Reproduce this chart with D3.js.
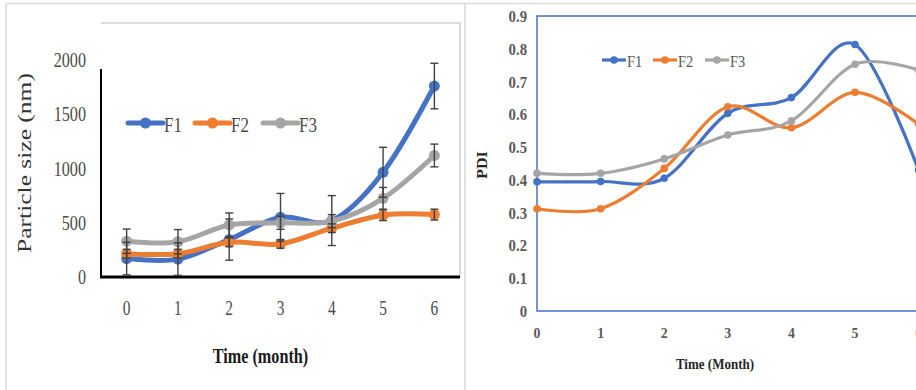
<!DOCTYPE html>
<html>
<head>
<meta charset="utf-8">
<script src="https://cdn.jsdelivr.net/npm/d3@7/dist/d3.min.js"></script>
<style>
  html, body { margin: 0; padding: 0; background: #ffffff; }
  svg { display: block; }
</style>
</head>
<body>
<svg id="chart" width="916" height="390"></svg>
<script>
// ---------- DATA ----------
const months = [0, 1, 2, 3, 4, 5, 6];
const seriesNames = ["F1", "F2", "F3"];
const colors = ["#4472C4", "#ED7D31", "#A5A5A5"];

// Left chart: particle size (nm)
const sizeF1 = [170, 165, 345, 550, 520, 965, 1760];
const sizeF2 = [215, 215, 320, 305, 450, 570, 575];
const sizeF3 = [330, 325, 480, 500, 515, 725, 1120];
const sizeErrF1 = [150, 150, 190, 220, 230, 230, 210];
const sizeErrF2 = [40, 40, 40, 40, 40, 50, 50];
const sizeErrF3 = [112, 112, 110, 60, 60, 100, 105];
const sizeTicks = [0, 500, 1000, 1500, 2000];

// Right chart: PDI
const pdiF1 = [0.394, 0.395, 0.405, 0.603, 0.651, 0.813, 0.43];
const pdiF2 = [0.312, 0.312, 0.435, 0.623, 0.559, 0.667, 0.57];
const pdiF3 = [0.42, 0.42, 0.464, 0.537, 0.58, 0.753, 0.735];
const pdiTicks = [0, 0.1, 0.2, 0.3, 0.4, 0.5, 0.6, 0.7, 0.8, 0.9];
const pdiXTicks = [0, 1, 2, 3, 4, 5, 6];

// ---------- SETUP ----------
const svg = d3.select("#chart");
const serif = "'Liberation Serif', 'Times New Roman', serif";

// panel frames
svg.append("line").attr("x1", 6).attr("x2", 916).attr("y1", 3.5).attr("y2", 3.5)
  .attr("stroke", "#d9d9d9").attr("stroke-width", 1.5);
svg.append("line").attr("x1", 6).attr("x2", 6).attr("y1", 3.5).attr("y2", 390)
  .attr("stroke", "#d9d9d9").attr("stroke-width", 1.5);
svg.append("line").attr("x1", 465).attr("x2", 465).attr("y1", 3.5).attr("y2", 390)
  .attr("stroke", "#d9d9d9").attr("stroke-width", 1.5);

function sText(g, x, y, str, opts) {
  const sx = opts.sx || 1;
  const rot = opts.rot ? " rotate(" + opts.rot + ")" : "";
  return g.append("text")
    .attr("transform", "translate(" + x + "," + y + ") scale(" + sx + ",1)" + rot)
    .attr("text-anchor", opts.anchor || "middle")
    .attr("font-family", serif)
    .attr("font-size", opts.size)
    .attr("font-weight", opts.weight || "normal")
    .attr("fill", opts.fill || "#595959")
    .text(str);
}

// ---------- LEFT CHART ----------
(function () {
  const g = svg.append("g");
  const x0 = 101, x1 = 460, yTop = 23, yBot = 277;
  const x = d3.scalePoint().domain(months).range([x0, x1]).padding(0.5);
  const y = d3.scaleLinear().domain([0, 2000]).range([yBot, 60]);
  const SX = 0.77;
  const txt = "#4a4a4a";

  // plot border (light)
  g.append("path").attr("d", `M${x0},${yTop}H${x1}V${yBot}`)
    .attr("fill", "none").attr("stroke", "#d0d0d0").attr("stroke-width", 1.5);

  // axes
  g.append("line").attr("x1", x0).attr("x2", x0).attr("y1", 69).attr("y2", yBot)
    .attr("stroke", "#000").attr("stroke-width", 2);
  g.append("line").attr("x1", x0 - 1).attr("x2", x1).attr("y1", yBot).attr("y2", yBot)
    .attr("stroke", "#000").attr("stroke-width", 3);

  // tick labels
  sizeTicks.forEach(t => sText(g, 86, y(t) + 7, String(t), { size: 21, sx: SX, anchor: "end", fill: txt }));
  months.forEach(m => sText(g, x(m), 315, String(m), { size: 20, sx: SX, fill: txt }));

  // titles
  sText(g, 260.5, 363, "Time (month)", { size: 21, sx: SX, weight: "bold", fill: "#1a1a1a" });
  sText(g, 31, 163, "Particle size (nm)", { size: 25.5, sx: SX, rot: -90, fill: "#333333" });

  const vals = [sizeF1, sizeF2, sizeF3];
  const errs = [sizeErrF1, sizeErrF2, sizeErrF3];
  const line = d3.line().x((d, i) => x(months[i])).y(d => y(d)).curve(d3.curveCardinal.tension(0));

  vals.forEach((v, s) => {
    g.append("path").datum(v).attr("d", line)
      .attr("fill", "none").attr("stroke", colors[s]).attr("stroke-width", 5)
      .attr("stroke-linecap", "round");
    g.selectAll(null).data(v).enter().append("circle")
      .attr("cx", (d, i) => x(months[i])).attr("cy", d => y(d)).attr("r", 5.5)
      .attr("fill", colors[s]);
  });

  // error bars
  vals.forEach((v, s) => {
    const eg = g.append("g").attr("stroke", "#404040").attr("stroke-width", 1.4);
    v.forEach((d, i) => {
      const cx = x(months[i]);
      const lo = Math.max(0, d - errs[s][i]);
      const hi = d + errs[s][i];
      eg.append("line").attr("x1", cx).attr("x2", cx).attr("y1", y(hi)).attr("y2", y(lo));
      eg.append("line").attr("x1", cx - 4).attr("x2", cx + 4).attr("y1", y(hi)).attr("y2", y(hi));
      if (lo > 0) eg.append("line").attr("x1", cx - 4).attr("x2", cx + 4).attr("y1", y(lo)).attr("y2", y(lo));
    });
  });

  // legend
  const lx = [128, 195, 263];
  seriesNames.forEach((n, s) => {
    g.append("line").attr("x1", lx[s]).attr("x2", lx[s] + 35).attr("y1", 123).attr("y2", 123)
      .attr("stroke", colors[s]).attr("stroke-width", 5).attr("stroke-linecap", "round");
    g.append("circle").attr("cx", lx[s] + 17.5).attr("cy", 123).attr("r", 5.5).attr("fill", colors[s]);
    sText(g, lx[s] + 36, 132, n, { size: 22, sx: SX, anchor: "start", fill: txt });
  });
})();

// ---------- RIGHT CHART ----------
(function () {
  const g = svg.append("g");
  const x0 = 537, yTop = 16, yBot = 311;
  const x = d3.scaleLinear().domain([0, 6]).range([x0, 918.6]);
  const y = d3.scaleLinear().domain([0, 0.9]).range([yBot, yTop]);
  const blue = "#4472C4";

  // frame (left, top, bottom)
  g.append("path").attr("d", `M920,${yTop}H${x0}V${yBot}H920`)
    .attr("fill", "none").attr("stroke", blue).attr("stroke-width", 1.5);

  // tick labels
  pdiTicks.forEach(t => sText(g, 527, y(t) + 6, t === 0 ? "0" : d3.format(".1f")(t),
    { size: 16, sx: 0.92, anchor: "end", weight: "bold" }));
  pdiXTicks.forEach(m => sText(g, x(m), 338, String(m), { size: 15, sx: 0.92, weight: "bold" }));

  sText(g, 715, 369, "Time (Month)", { size: 15.5, sx: 0.84, weight: "bold", fill: "#262626" });
  sText(g, 487, 165, "PDI", { size: 16, sx: 0.92, rot: -90, weight: "bold", fill: "#262626" });

  const vals = [pdiF1, pdiF2, pdiF3];
  const line = d3.line().x((d, i) => x(pdiXTicks[i])).y(d => y(d)).curve(d3.curveCardinal.tension(0));
  vals.forEach((v, s) => {
    g.append("path").datum(v).attr("d", line)
      .attr("fill", "none").attr("stroke", colors[s]).attr("stroke-width", 3.2);
    g.selectAll(null).data(v).enter().append("circle")
      .attr("cx", (d, i) => x(pdiXTicks[i])).attr("cy", d => y(d)).attr("r", 3.8)
      .attr("fill", colors[s]);
  });

  // legend
  const lx = [602, 653, 705];
  seriesNames.forEach((n, s) => {
    g.append("line").attr("x1", lx[s]).attr("x2", lx[s] + 24).attr("y1", 60).attr("y2", 60)
      .attr("stroke", colors[s]).attr("stroke-width", 3.2);
    g.append("circle").attr("cx", lx[s] + 12).attr("cy", 60).attr("r", 3.8).attr("fill", colors[s]);
    sText(g, lx[s] + 25, 67, n, { size: 17, sx: 0.85, anchor: "start" });
  });
})();
</script>
</body>
</html>
